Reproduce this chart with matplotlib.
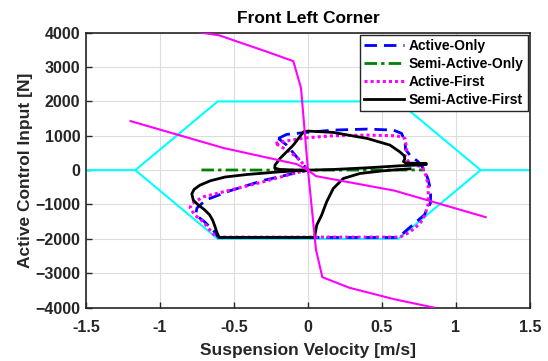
import matplotlib
matplotlib.use("Agg")
import matplotlib.pyplot as plt

plt.rcParams['font.family'] = ['Liberation Sans', 'DejaVu Sans']
plt.rcParams['font.weight'] = 'bold'

# Operating envelope (hexagon) of the actuator
env_v = [-1.5, -1.167, -0.61, 0.61, 1.167, 1.5]
env_f_up = [0, 0, 2000, 2000, 0, 0]
env_lo_v = [-1.167, -0.61, 0.61, 1.167]
env_lo_f = [0, -2000, -2000, 0]

# Damper characteristic curves
damp_steep_v = [-0.85, -0.72, -0.60, -0.28, -0.099, -0.047, 0.0, 0.054, 0.097, 0.279, 0.586, 0.851]
damp_steep_f = [4100, 4000, 3923, 3450, 3172, 2391, 0, -2314, -3114, -3422, -3760, -4000]
damp_soft_v = [-1.199, -0.572, -0.076, 0.0, 0.054, 0.586, 1.201]
damp_soft_f = [1427, 646, 174, 0, -174, -598, -1369]

# Active-Only trajectory
ao_v = [-0.2, -0.144, -0.03, 0.17, 0.4, 0.577, 0.633, 0.655, 0.66, 0.689, 0.745, 0.79,
        0.813, 0.83, 0.827, 0.787, 0.61, -0.606, -0.64, -0.70, -0.76, -0.75, -0.69,
        -0.527, -0.302, -0.099, 0.0, -0.077, -0.144, -0.2]
ao_f = [923, 1040, 1090, 1166, 1195, 1166, 1069, 826, 600, 437, 243, 0,
        -291, -600, -964, -1300, -1960, -1960, -1749, -1500, -1300, -1100, -868,
        -600, -300, -97, 0, 388, 729, 923]

# Semi-Active-Only trajectory
sao_v = [-0.72, -0.4, 0.0, 0.4, 0.79]
sao_f = [5, 3, 0, 3, 5]

# Active-First trajectory
af_v = [-0.22, -0.12, 0.0, 0.17, 0.4, 0.6, 0.655, 0.667, 0.655, 0.689, 0.768, 0.79,
        0.813, 0.813, 0.79, 0.757, 0.689, 0.622, -0.62, -0.662, -0.707, -0.764,
        -0.797, -0.786, -0.707, -0.527, -0.302, -0.099, 0.0, -0.054, -0.122, -0.19, -0.22]
af_f = [780, 870, 945, 1000, 1020, 1000, 923, 632, 389, 194, 97, -49,
        -437, -972, -1312, -1555, -1798, -1950, -1950, -1749, -1506, -1312,
        -1098, -972, -777, -583, -340, -97, 0, 291, 534, 700, 780]

# Semi-Active-First trajectory
saf_v = [0.0, 0.17, 0.4, 0.62, 0.75, 0.8, 0.8, 0.72, 0.66, 0.645, 0.655, 0.65, 0.62,
         0.554, 0.4, 0.17, 0.0, -0.03, -0.099, -0.189, -0.223, -0.225, -0.19, -0.1, 0.0,
         -0.19, -0.41, -0.56, -0.66, -0.73, -0.77, -0.785, -0.775, -0.745, -0.70, -0.665,
         -0.645, -0.63, -0.617, -0.6,
         0.045, 0.047, 0.059, 0.092, 0.126, 0.171, 0.239, 0.351, 0.509, 0.69]
saf_f = [0, 19, 68, 126, 150, 165, 195, 200, 210, 250, 330, 420, 534,
         729, 923, 1098, 1137, 1117, 729, 340, 146, 60, 20, 5, 0,
         -49, -126, -200, -310, -437, -560, -690, -875, -1000, -1150, -1300,
         -1450, -1620, -1798, -1960,
         -1960, -1895, -1603, -1312, -924, -534, -243, -97, -19, 40]

x_ticks = [-1.5, -1, -0.5, 0, 0.5, 1, 1.5]
x_tick_labels = ['-1.5', '-1', '-0.5', '0', '0.5', '1', '1.5']
y_ticks = [-4000, -3000, -2000, -1000, 0, 1000, 2000, 3000, 4000]

fig = plt.figure(figsize=(5.48, 3.61), dpi=100)
ax = fig.add_axes([0.157, 0.148, 0.81, 0.7614])

tc = '#262626'
ax.plot(ao_v, ao_f, color='#0000FF', ls=(0, (4.5, 2.5)), lw=2.0, label='Active-Only', zorder=3)
ax.plot(sao_v, sao_f, color='#008000', ls=(0, (4.5, 1.5, 1.2, 1.5)), lw=2.0, label='Semi-Active-Only', zorder=3)
ax.plot(af_v, af_f, color='#FF00FF', ls=(0, (1, 1)), lw=2.2, label='Active-First', zorder=3)
ax.plot(saf_v, saf_f, color='black', lw=2.0, label='Semi-Active-First', zorder=4)

ax.plot(env_v, env_f_up, color='#00FFFF', lw=1.5, zorder=2)
ax.plot(env_lo_v, env_lo_f, color='#00FFFF', lw=1.5, zorder=2)
ax.plot(damp_steep_v, damp_steep_f, color='#FF00FF', lw=1.5, zorder=5)
ax.plot(damp_soft_v, damp_soft_f, color='#FF00FF', lw=1.5, zorder=5)

ax.set_xlim(-1.5, 1.5)
ax.set_ylim(-4000, 4000)
ax.set_xticks(x_ticks)
ax.set_xticklabels(x_tick_labels)
ax.set_yticks(y_ticks)
ax.grid(True, color='#dcdcdc', lw=0.8)
ax.set_axisbelow(True)
ax.tick_params(direction='in', length=4, width=1.0, colors=tc, labelsize=11.5, pad=4)
ax.tick_params(axis='x', pad=9)
for lab in ax.get_xticklabels() + ax.get_yticklabels():
    lab.set_fontweight('bold')
for s in ax.spines.values():
    s.set_color(tc)
    s.set_linewidth(1.2)

ax.set_title('Front Left Corner', fontsize=12.5, fontweight='bold', color='black', pad=7)
ax.set_xlabel('Suspension Velocity [m/s]', fontsize=12.5, fontweight='bold', color=tc, labelpad=6)
ax.set_ylabel('Active Control Input [N]', fontsize=12.5, fontweight='bold', color=tc, labelpad=2)

leg = ax.legend(loc='upper right', prop={'weight': 'bold', 'size': 10},
                handlelength=2.9, handletextpad=0.3, labelspacing=0.28,
                borderaxespad=0.17, borderpad=0.3, fancybox=False, framealpha=1,
                edgecolor=tc)
leg.get_frame().set_linewidth(1.0)

fig.savefig('out.png', dpi=100)
